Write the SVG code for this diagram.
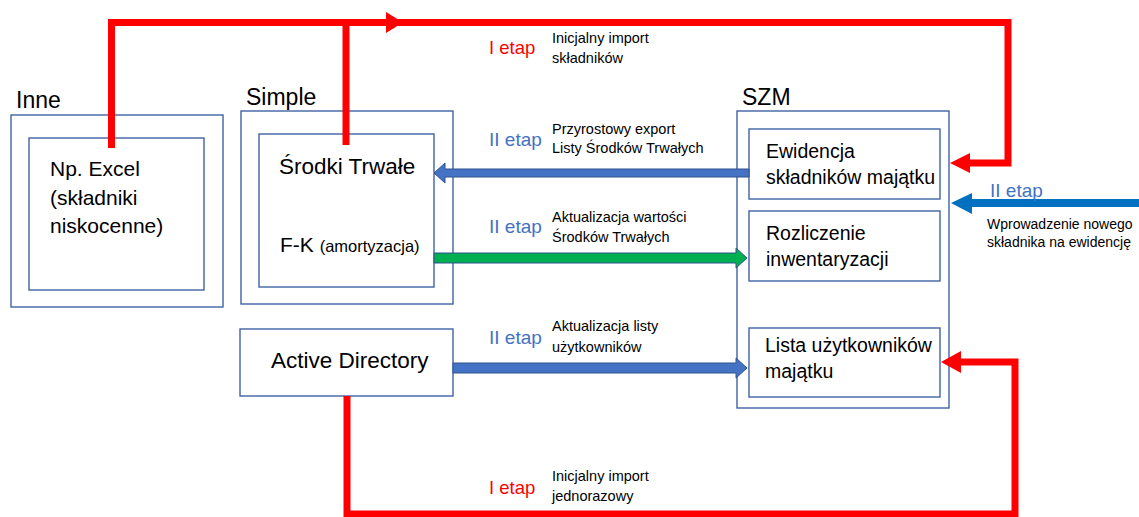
<svg xmlns="http://www.w3.org/2000/svg" width="1139" height="517" viewBox="0 0 1139 517">
<style>
.box{fill:#fff;stroke:#4163A3;stroke-width:1.4}
.t{font-family:"Liberation Sans",Arial,sans-serif;fill:#000}
.big{font-size:21px}
.mid{font-size:19.5px}
.sm{font-size:14.5px}
.hdr{font-size:23px}
.red{fill:#FF0000;font-size:18.5px;font-family:"Liberation Sans",Arial,sans-serif}
.blu{fill:#4472C4;font-size:19px;font-family:"Liberation Sans",Arial,sans-serif}
.rl{fill:none;stroke:#FF0000;stroke-width:7}
</style>
<rect width="1139" height="517" fill="#fff"/>
<g id="inne">
<text class="t hdr" x="16" y="108" font-size="25">Inne</text>
<rect class="box" x="11" y="115" width="212" height="192"/>
<rect class="box" x="29" y="138" width="175" height="152"/>
<text class="t big" x="50" y="176">Np. Excel</text>
<text class="t big" x="50" y="205">(składniki</text>
<text class="t big" x="50" y="233">niskocenne)</text>
</g>
<g id="simple">
<text class="t hdr" x="246" y="105" font-size="24">Simple</text>
<rect class="box" x="241" y="111" width="212" height="193"/>
<rect class="box" x="259" y="134" width="175" height="153"/>
<text class="t" font-size="22.5" x="279" y="174">Środki Trwałe</text>
<text class="t" x="280" y="252"><tspan font-size="21">F-K </tspan><tspan font-size="16.5">(amortyzacja)</tspan></text>
</g>
<g id="ad">
<rect class="box" x="240" y="329" width="213" height="67"/>
<text class="t" font-size="22.5" x="271" y="368">Active Directory</text>
</g>
<g id="szm">
<text class="t hdr" x="742" y="105">SZM</text>
<rect class="box" x="737" y="111" width="212" height="297"/>
<rect class="box" x="749" y="129" width="191" height="70"/>
<text class="t mid" x="766" y="158">Ewidencja</text>
<text class="t mid" x="766" y="184">składników majątku</text>
<rect class="box" x="749" y="211" width="191" height="70"/>
<text class="t mid" x="766" y="240">Rozliczenie</text>
<text class="t mid" x="766" y="266">inwentaryzacji</text>
<rect class="box" x="749" y="328" width="191" height="69"/>
<text class="t mid" x="765" y="352">Lista użytkowników</text>
<text class="t mid" x="765" y="378">majątku</text>
</g>
<g id="connectors">
<polyline class="rl" points="111.5,148 111.5,22.5 1008,22.5 1008,163 968,163"/>
<line class="rl" x1="346" y1="145" x2="346" y2="22.5"/>
<polygon points="386,12 403,22.5 386,33" fill="#FF0000"/>
<polygon points="950,163 970,153 970,173" fill="#FF0000"/>
<polyline class="rl" points="347,396 347,514 1015,514 1015,362 960,362"/>
<polygon points="941,362 961,351 961,373" fill="#FF0000"/>
<polygon points="749,169 445,169 445,163 434,173 445,183 445,177 749,177" fill="#4472C4" stroke="#2F528F" stroke-width="1"/>
<polygon points="434,253 736,253 736,248 747,258 736,268 736,263 434,263" fill="#00B050" stroke="#2F528F" stroke-width="1"/>
<polygon points="453,363 736,363 736,358 747,368 736,378 736,373 453,373" fill="#4472C4" stroke="#2F528F" stroke-width="1"/>
<line x1="1139" y1="203" x2="968" y2="203" stroke="#0070C0" stroke-width="8"/>
<polygon points="951,203 972,193 972,214" fill="#0070C0"/>
</g>
<g id="labels">
<text class="red" x="489" y="54">I etap</text>
<text class="t sm" x="552" y="43">Inicjalny import</text>
<text class="t sm" x="552" y="63">składników</text>
<text class="blu" x="489" y="146">II etap</text>
<text class="t sm" x="552" y="134">Przyrostowy export</text>
<text class="t sm" x="552" y="153">Listy Środków Trwałych</text>
<text class="blu" x="489" y="233">II etap</text>
<text class="t sm" x="552" y="222">Aktualizacja wartości</text>
<text class="t sm" x="552" y="242">Środków Trwałych</text>
<text class="blu" x="489" y="344">II etap</text>
<text class="t sm" x="552" y="331">Aktualizacja listy</text>
<text class="t sm" x="552" y="352">użytkowników</text>
<text class="red" x="489" y="494">I etap</text>
<text class="t sm" x="552" y="481">Inicjalny import</text>
<text class="t sm" x="552" y="501">jednorazowy</text>
<text class="blu" x="990" y="197">II etap</text>
<text class="t" font-size="14" x="987" y="229">Wprowadzenie nowego</text>
<text class="t" font-size="14" x="987" y="247">składnika na ewidencję</text>
</g>
</svg>
